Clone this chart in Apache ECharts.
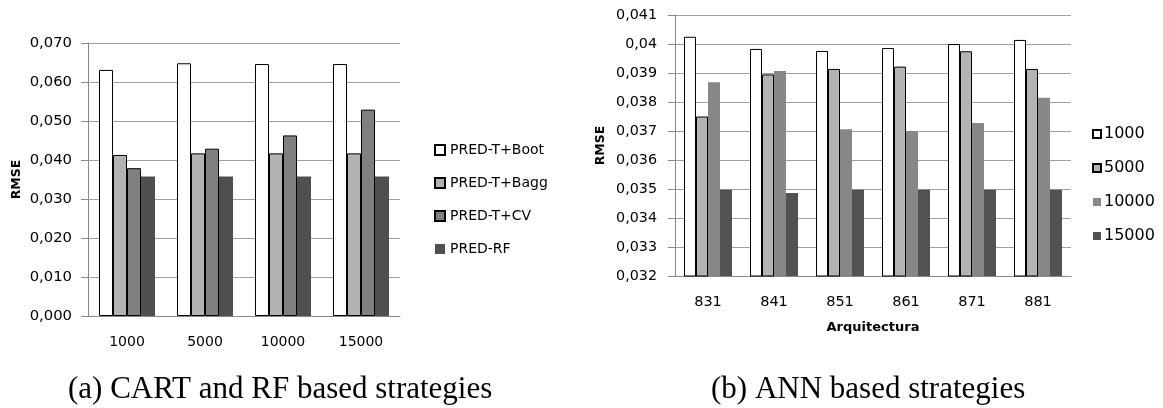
<!DOCTYPE html>
<html>
<head>
<meta charset="utf-8">
<script src="https://cdn.jsdelivr.net/npm/echarts@6/dist/echarts.min.js"></script>
<style>
html,body{margin:0;padding:0;background:#fff;}
#chart{width:1163px;height:408px;}
</style>
</head>
<body>
<div id="chart"></div>
<script>
// ---- Data: (a) CART and RF based strategies ----
const leftCategories = ['1000', '5000', '10000', '15000'];
const leftNames = ['PRED-T+Boot', 'PRED-T+Bagg', 'PRED-T+CV', 'PRED-RF'];
const bootValues = [0.0631, 0.0648, 0.0646, 0.0646];
const baggValues = [0.0413, 0.0417, 0.0417, 0.0417];
const cvValues   = [0.0379, 0.0429, 0.0463, 0.0529];
const rfValues   = [0.0358, 0.0358, 0.0358, 0.0358];
const leftTicks = [0, 0.07, 0.01]; // min, max, interval

// ---- Data: (b) ANN based strategies ----
const rightCategories = ['831', '841', '851', '861', '871', '881'];
const rightNames = ['1000', '5000', '10000', '15000'];
const ann1000  = [0.04025, 0.03983, 0.03976, 0.03986, 0.04000, 0.04014];
const ann5000  = [0.03750, 0.03895, 0.03914, 0.03922, 0.03975, 0.03914];
const ann10000 = [0.03868, 0.03907, 0.03706, 0.03700, 0.03728, 0.03815];
const ann15000 = [0.03497, 0.03486, 0.03497, 0.03497, 0.03497, 0.03497];
const rightTicks = [0.032, 0.041, 0.001];

const captionA = '(a) CART and RF based strategies';
const captionB = '(b) ANN based strategies';

const FONT = 'DejaVu Sans';
const AXIS_COLOR = '#8a8a8a';
const GRID_COLOR = '#a0a0a0';

function leftFmt(v) { return v.toFixed(3).replace('.', ','); }
function rightFmt(v) { return String(Number(v.toFixed(3))).replace('.', ','); }

function barSeries(name, data, color, border, idx, width) {
  return {
    type: 'bar', name: name, data: data,
    xAxisIndex: idx, yAxisIndex: idx,
    barWidth: width, barGap: '0%',
    itemStyle: border ? { color: color, borderColor: '#000', borderWidth: 1 } : { color: color },
    emphasis: { disabled: true },
    animation: false, clip: true
  };
}

const chart = echarts.init(document.getElementById('chart'), null, { renderer: 'canvas' });

const yAxisCommon = {
  type: 'value',
  axisLine: { show: true, lineStyle: { color: AXIS_COLOR, width: 1 } },
  axisTick: { show: true, inside: false, length: 7, lineStyle: { color: AXIS_COLOR } },
  splitLine: { show: true, lineStyle: { color: GRID_COLOR, width: 1 } },
  nameLocation: 'middle',
  nameTextStyle: { fontFamily: FONT, fontWeight: 'bold', fontSize: 12.5, color: '#000' }
};
const xAxisCommon = {
  type: 'category',
  axisLine: { show: true, onZero: false, lineStyle: { color: AXIS_COLOR, width: 1 } },
  axisTick: { show: false },
  splitLine: { show: false },
  nameLocation: 'middle',
  nameTextStyle: { fontFamily: FONT, fontWeight: 'bold', fontSize: 13, color: '#000' }
};

chart.setOption({
  animation: false,
  backgroundColor: '#fff',
  grid: [
    { left: 88, top: 43, width: 312, height: 273, containLabel: false },
    { left: 675, top: 15, width: 396, height: 261, containLabel: false }
  ],
  xAxis: [
    Object.assign({}, xAxisCommon, {
      gridIndex: 0, data: leftCategories,
      axisLabel: { fontFamily: FONT, fontSize: 14, color: '#000', margin: 19 }
    }),
    Object.assign({}, xAxisCommon, {
      gridIndex: 1, data: rightCategories,
      name: 'Arquitectura', nameGap: 45,
      axisLabel: { fontFamily: FONT, fontSize: 14.5, color: '#000', margin: 19 }
    })
  ],
  yAxis: [
    Object.assign({}, yAxisCommon, {
      gridIndex: 0, min: leftTicks[0], max: leftTicks[1], interval: leftTicks[2],
      name: 'RMSE', nameGap: 65,
      axisLabel: { fontFamily: FONT, fontSize: 14.8, color: '#000', margin: 16, formatter: leftFmt }
    }),
    Object.assign({}, yAxisCommon, {
      gridIndex: 1, min: rightTicks[0], max: rightTicks[1], interval: rightTicks[2],
      name: 'RMSE', nameGap: 68,
      axisLabel: { fontFamily: FONT, fontSize: 14.3, color: '#000', margin: 18, formatter: rightFmt }
    })
  ],
  legend: [
    {
      orient: 'vertical', left: 434, top: 143, padding: 0,
      data: leftNames, itemWidth: 10, itemHeight: 10, itemGap: 19,
      icon: 'rect', selectedMode: false,
      textStyle: { fontFamily: FONT, fontSize: 14, lineHeight: 14, color: '#000' }
    },
    {
      orient: 'vertical', left: 1092, top: 126, padding: 0,
      data: rightNames, itemWidth: 8, itemHeight: 8, itemGap: 18,
      icon: 'rect', selectedMode: false,
      textStyle: { fontFamily: FONT, fontSize: 16, lineHeight: 16, color: '#000', padding: [0, 0, 0, -2] }
    }
  ],
  series: [
    barSeries(leftNames[0], bootValues, '#ffffff', true, 0, 14),
    barSeries(leftNames[1], baggValues, '#b2b2b2', true, 0, 14),
    barSeries(leftNames[2], cvValues, '#808080', true, 0, 14),
    barSeries(leftNames[3], rfValues, '#4f4f4f', false, 0, 14),
    barSeries(rightNames[0], ann1000, '#ffffff', true, 1, 12),
    barSeries(rightNames[1], ann5000, '#b3b3b3', true, 1, 12),
    barSeries(rightNames[2], ann10000, '#878787', false, 1, 12),
    barSeries(rightNames[3], ann15000, '#525252', false, 1, 12)
  ],
  graphic: [
    { type: 'text', left: 281 - 213, top: 374, style: { text: captionA, font: '31px "Liberation Serif"', fill: '#000' } },
    { type: 'text', left: 868 - 157, top: 374, style: { text: captionB, font: '31px "Liberation Serif"', fill: '#000' } }
  ]
});
</script>
</body>
</html>
